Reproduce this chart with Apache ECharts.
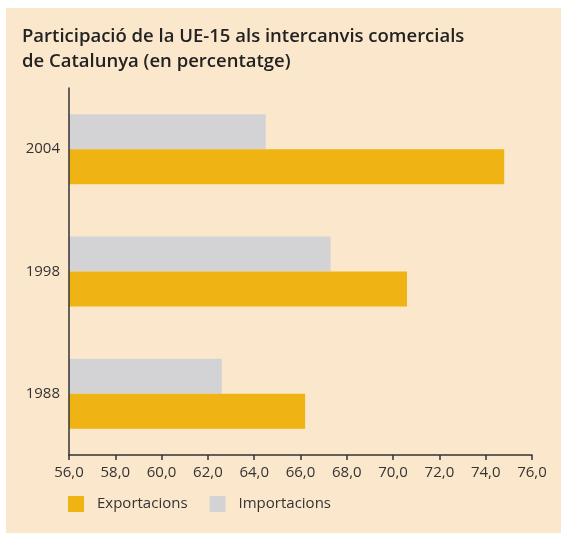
<!DOCTYPE html>
<html>
<head>
<meta charset="utf-8">
<script src="https://cdn.jsdelivr.net/npm/echarts@6/dist/echarts.min.js"></script>
<style>
  html, body { margin: 0; padding: 0; background: #fff; }
  #chart { width: 561px; height: 533px; }
</style>
</head>
<body>
<div id="chart"></div>
<script>
// dades
const years = ["1988", "1998", "2004"];
const exportacions = [66.2, 70.6, 74.8];
const importacions = [62.6, 67.3, 64.5];
const xTicks = [56, 58, 60, 62, 64, 66, 68, 70, 72, 74, 76];

const FONT = "Open Sans";
const chart = echarts.init(document.getElementById("chart"));

chart.setOption({
  animation: false,
  textStyle: { fontFamily: FONT },
  graphic: [
    {
      type: "rect",
      shape: { x: 6, y: 8, width: 555, height: 525 },
      style: { fill: "#fbe8cc" },
      z: -10,
    },
  ],
  title: {
    text: "Participació de la UE-15 als intercanvis comercials\nde Catalunya (en percentatge)",
    left: 17,
    top: 19,
    textStyle: {
      fontFamily: FONT,
      fontSize: 18.5,
      fontWeight: 600,
      color: "#222",
      lineHeight: 25,
    },
  },
  legend: {
    left: 63,
    top: 491,
    icon: "rect",
    itemWidth: 16,
    itemHeight: 16,
    itemGap: 22,
    data: ["Exportacions", "Importacions"],
    textStyle: {
      fontFamily: FONT,
      fontSize: 15,
      color: "#333",
      padding: [0, 0, 0, 8],
    },
  },
  grid: {
    left: 69,
    right: 29,
    top: 88,
    bottom: 78,
  },
  xAxis: {
    type: "value",
    min: xTicks[0],
    max: xTicks[xTicks.length - 1],
    interval: 2,
    splitLine: { show: false },
    axisLine: { show: true, lineStyle: { color: "#333", width: 1.5 } },
    axisTick: { show: true, length: 5, lineStyle: { color: "#333", width: 1.5 } },
    axisLabel: {
      fontFamily: FONT,
      fontSize: 15,
      color: "#333",
      margin: 10,
      formatter: (v) => v.toFixed(1).replace(".", ","),
    },
  },
  yAxis: {
    type: "category",
    data: years,
    z: 5,
    axisLine: { show: true, lineStyle: { color: "#333", width: 1.5 } },
    axisTick: { show: false },
    axisLabel: {
      fontFamily: FONT,
      fontSize: 15,
      color: "#333",
      margin: 9,
    },
  },
  series: [
    {
      name: "Importacions",
      type: "bar",
      data: importacions,
      barWidth: 35,
      barGap: "0%",
      itemStyle: { color: "#d3d3d5" },
    },
    {
      name: "Exportacions",
      type: "bar",
      data: exportacions,
      barWidth: 35,
      barGap: "0%",
      itemStyle: { color: "#efb313" },
    },
  ],
});
</script>
</body>
</html>
